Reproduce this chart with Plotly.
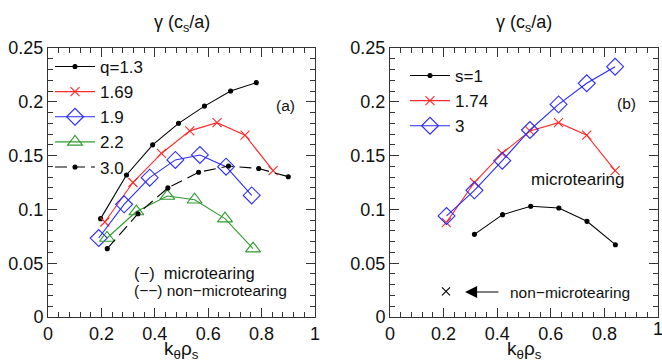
import plotly.graph_objects as go

# ---- Panel (a): q scan ----
k_q13 = [0.197, 0.294, 0.392, 0.489, 0.586, 0.684, 0.780]
g_q13 = [0.0914, 0.132, 0.160, 0.180, 0.196, 0.210, 0.2178]
k_q169 = [0.213, 0.318, 0.425, 0.531, 0.633, 0.738, 0.843]
g_q169 = [0.0883, 0.125, 0.152, 0.173, 0.1806, 0.169, 0.136]
k_q19 = [0.190, 0.285, 0.381, 0.477, 0.569, 0.667, 0.763]
g_q19 = [0.0734, 0.1047, 0.1295, 0.146, 0.1506, 0.1397, 0.113]
k_q22 = [0.221, 0.331, 0.447, 0.549, 0.663, 0.768]
g_q22 = [0.0734, 0.098, 0.1124, 0.109, 0.0914, 0.0635]
k_q30 = [0.222, 0.337, 0.449, 0.564, 0.676, 0.789, 0.900]
g_q30 = [0.0635, 0.096, 0.120, 0.1345, 0.1403, 0.138, 0.1304]

# ---- Panel (b): shear scan ----
k_s1 = [0.315, 0.420, 0.525, 0.630, 0.735, 0.841]
g_s1 = [0.0768, 0.0951, 0.1029, 0.1013, 0.0889, 0.0672]
k_s174 = [0.210, 0.315, 0.418, 0.522, 0.629, 0.734, 0.840]
g_s174 = [0.0877, 0.125, 0.152, 0.1729, 0.1806, 0.169, 0.136]
k_s3 = [0.211, 0.315, 0.419, 0.522, 0.629, 0.734, 0.840]
g_s3 = [0.0939, 0.1177, 0.1453, 0.1738, 0.1976, 0.2172, 0.2326]
k_nonmt = [0.209]
g_nonmt = [0.0239]

x_ticks = [0, 0.2, 0.4, 0.6, 0.8, 1]
x_ticklabels = ["0", "0.2", "0.4", "0.6", "0.8", "1"]
y_ticks = [0, 0.05, 0.1, 0.15, 0.2, 0.25]
y_ticklabels = ["0", "0.05", "0.1", "0.15", "0.2", "0.25"]

BLACK = "#000000"
RED = "#ff2a2a"
BLUE = "#2a2aff"
GREEN = "#2e9a2e"
FONT = "Liberation Sans"

W, H = 662, 364

fig = go.Figure()

def add(x, y, name, color, symbol, size, dash="solid", xa="x", ya="y", legend="legend", showlegend=True):
    fig.add_trace(go.Scatter(
        x=x, y=y, name=name, mode="lines+markers",
        line=dict(color=color, width=1.1, dash=dash),
        marker=dict(symbol=symbol, size=size, color=color,
                    line=dict(color=color, width=1.1)),
        xaxis=xa, yaxis=ya, legend=legend, showlegend=showlegend,
    ))

add(k_q13, g_q13, "q=1.3", BLACK, "circle", 4)
add(k_q169, g_q169, "1.69", RED, "x-thin", 9)
add(k_q19, g_q19, "1.9", BLUE, "diamond-open", 13)
add(k_q22, g_q22, "2.2", GREEN, "triangle-up-open", 13)
add(k_q30, g_q30, "3.0", BLACK, "circle", 4, dash="12px,6px")

add(k_s1, g_s1, "s=1", BLACK, "circle", 4, xa="x2", ya="y2", legend="legend2")
add(k_s174, g_s174, "1.74", RED, "x-thin", 9, xa="x2", ya="y2", legend="legend2")
add(k_s3, g_s3, "3", BLUE, "diamond-open", 13, xa="x2", ya="y2", legend="legend2")
fig.add_trace(go.Scatter(
    x=k_nonmt, y=g_nonmt, mode="markers", showlegend=False,
    marker=dict(symbol="x-thin", size=8, color=BLACK, line=dict(color=BLACK, width=1.1)),
    xaxis="x2", yaxis="y2",
))

# domains from pixel geometry
xd1 = [48 / W, 315 / W]
xd2 = [390 / W, 658 / W]
yd = [1 - 317 / H, 1 - 48 / H]

def xaxis(domain, anchor, ticktext):
    return dict(
        domain=domain, anchor=anchor, range=[0, 1],
        tickmode="array", tickvals=x_ticks, ticktext=ticktext,
        ticks="inside", ticklen=9, tickwidth=1, tickcolor="#333",
        minor=dict(dtick=0.04, tick0=0, ticks="inside", ticklen=5, tickcolor="#333"),
        showline=True, linecolor="#333", linewidth=1, mirror="ticks",
        showgrid=False, zeroline=False, automargin=False,
        ticklabeloverflow="allow",
        tickfont=dict(family=FONT, size=18, color="#111"),
    )

def yaxis(anchor):
    return dict(
        domain=yd, anchor=anchor, range=[0, 0.25],
        tickmode="array", tickvals=y_ticks, ticktext=y_ticklabels,
        ticks="inside", ticklen=9, tickwidth=1, tickcolor="#333",
        minor=dict(dtick=0.01, tick0=0, ticks="inside", ticklen=5, tickcolor="#333"),
        showline=True, linecolor="#333", linewidth=1, mirror="ticks",
        showgrid=False, zeroline=False, automargin=False,
        ticklabeloverflow="allow",
        tickfont=dict(family=FONT, size=18, color="#111"),
    )

legend_common = dict(
    bgcolor="rgba(0,0,0,0)", borderwidth=0,
    font=dict(family=FONT, size=17, color="#111"),
    xanchor="left", yanchor="top", tracegroupgap=0, itemwidth=40,
)

# right panel: last label ("1") sits at the page edge; drawn as an annotation below
x_ticklabels_b = x_ticklabels[:-1] + [""]

fig.update_layout(
    width=W, height=H,
    margin=dict(l=0, r=0, t=0, b=0),
    paper_bgcolor="white", plot_bgcolor="white",
    xaxis=xaxis(xd1, "y", x_ticklabels), yaxis=yaxis("x"),
    xaxis2=xaxis(xd2, "y2", x_ticklabels_b), yaxis2=yaxis("x2"),
    legend=dict(x=50 / W, y=1 - 49 / H, **legend_common),
    legend2=dict(x=405 / W, y=1 - 58 / H, **legend_common),
)

ann = []
title_font = dict(family=FONT, size=18, color="#111")
for xd in (xd1, xd2):
    cx = (xd[0] + xd[1]) / 2
    ann.append(dict(text="γ (c<sub>s</sub>/a)", x=cx, y=1 - 24 / H, xref="paper", yref="paper",
                    showarrow=False, font=title_font, xanchor="center", yanchor="middle"))
    ann.append(dict(text="k<sub>θ</sub>ρ<sub>s</sub>", x=cx, y=1 - 350 / H, xref="paper", yref="paper",
                    showarrow=False, font=dict(family=FONT, size=19, color="#111"),
                    xanchor="center", yanchor="middle"))

ann.append(dict(text=x_ticklabels[-1], x=x_ticks[-1], y=1 - 329 / H, xref="x2", yref="paper",
                showarrow=False, font=dict(family=FONT, size=18, color="#111"),
                xanchor="center", yanchor="middle"))

small = dict(family=FONT, size=15.5, color="#111")
ann.append(dict(text="(a)", x=0.89, y=0.197, xref="x", yref="y", showarrow=False, font=small))
ann.append(dict(text="(b)", x=0.883, y=0.198, xref="x2", yref="y2", showarrow=False, font=small))
ann.append(dict(text="(−)  microtearing", x=0.316, y=0.041, xref="x", yref="y",
                showarrow=False, font=dict(family=FONT, size=16.5, color="#111"), xanchor="left"))
ann.append(dict(text="(−−) non−microtearing", x=0.316, y=0.0248, xref="x", yref="y",
                showarrow=False, font=small, xanchor="left"))
ann.append(dict(text="microtearing", x=0.70, y=0.128, xref="x2", yref="y2",
                showarrow=False, font=dict(family=FONT, size=17, color="#111")))
ann.append(dict(text="non−microtearing", x=0.44, y=0.0232, xref="x2", yref="y2",
                showarrow=False, font=small, xanchor="left"))
ann.append(dict(text="", x=0.28, y=0.0232, ax=0.41, ay=0.0232, xref="x2", yref="y2",
                axref="x2", ayref="y2", showarrow=True, arrowhead=2, arrowsize=2.2,
                arrowwidth=1.1, arrowcolor="#000"))
fig.update_layout(annotations=ann)

fig.write_html("out.html")
